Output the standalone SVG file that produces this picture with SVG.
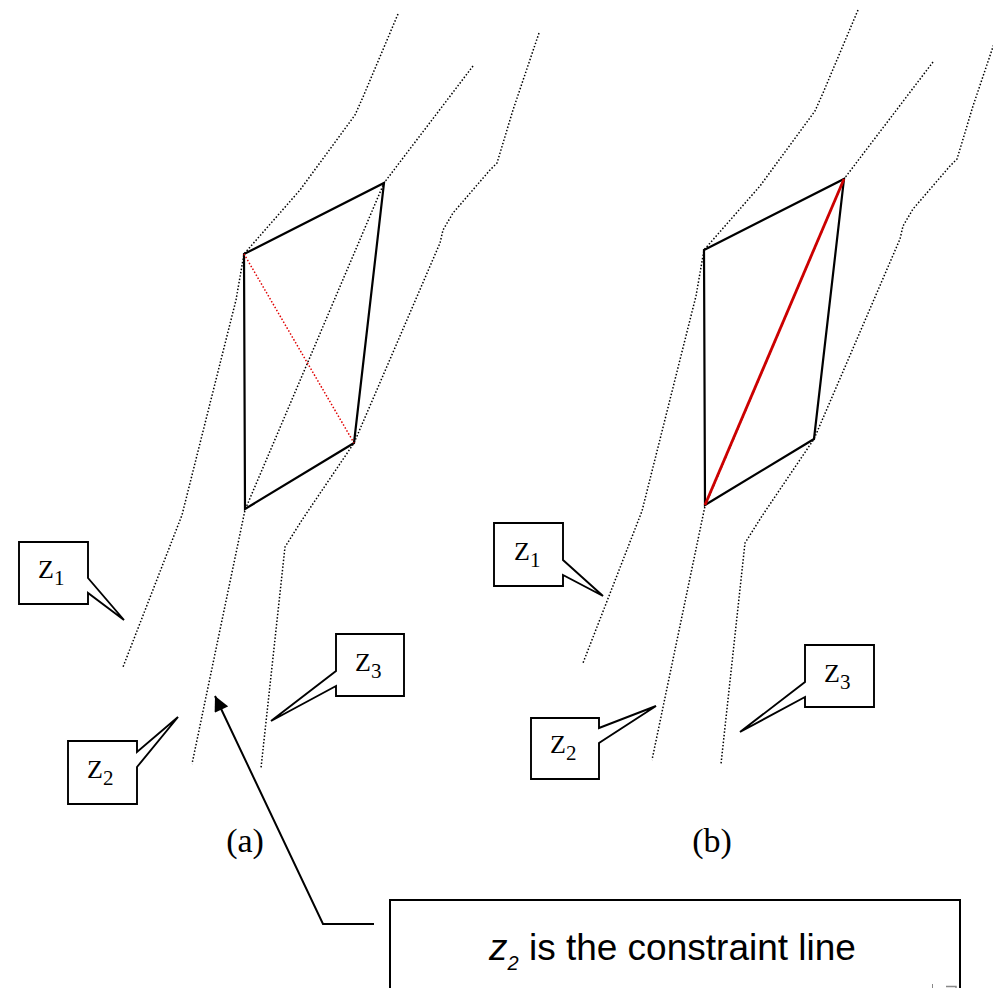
<svg xmlns="http://www.w3.org/2000/svg" width="993" height="988" viewBox="0 0 993 988">
<defs>
<style>
.dot{fill:none;stroke:#000;stroke-width:1.5;stroke-dasharray:1.5 1.9;stroke-linejoin:round}
.quad{fill:none;stroke:#000;stroke-width:2.2;stroke-linejoin:miter}
.call{fill:#fff;stroke:#000;stroke-width:1.9;stroke-linejoin:miter}
.zt{font-family:"Liberation Serif","Times New Roman",serif;font-size:26px;fill:#000}
.zs{font-size:21px}
.cap{font-family:"Liberation Serif","Times New Roman",serif;font-size:34px;fill:#000;text-anchor:middle}
.note{font-family:"Liberation Sans",Arial,sans-serif;font-size:37px;fill:#000}
.conn{fill:none;stroke:#000;stroke-width:2}
</style>
<marker id="arr" viewBox="0 0 10 10" refX="10" refY="5" markerWidth="17" markerHeight="15" markerUnits="userSpaceOnUse" orient="auto">
<path d="M0,0 L10,5 L0,10 Z" fill="#000"/>
</marker>
</defs>
<rect width="993" height="988" fill="#fff"/>

<g id="panel-a">
<polyline class="dot" points="398,14 363,97 355,115 300,190 244,254 236,300 182,515 123,667"/>
<polyline class="dot" points="473,66 384,183 245,510 192,764"/>
<polyline class="dot" points="539,33 513,110 497,163 490,170 453,213 443,230 440,243 354,443 302,520 285,547 261,768"/>
<polygon class="quad" points="244,254 384,183 354,443 245,509"/>
<line x1="244" y1="254" x2="354" y2="443" stroke="#e00000" stroke-width="1.5" stroke-dasharray="1.5 1.9"/>
</g>

<g id="panel-b" transform="translate(460,-4)">
<polyline class="dot" points="398,14 363,97 355,115 300,190 244,254 236,300 182,515 123,667"/>
<polyline class="dot" points="473,66 384,183 245,510 192,764"/>
<polyline class="dot" points="539,33 513,110 497,163 490,170 453,213 443,230 440,243 354,443 302,520 285,547 261,768"/>
<polygon class="quad" points="244,254 384,183 354,443 245,509"/>
<line x1="245" y1="509" x2="384" y2="183" stroke="#cc0000" stroke-width="2.8"/>
</g>

<g id="callout-a-z1">
<path class="call" d="M19,542 H88 V578 L124,620 L88,593 V604 H19 Z"/>
<text class="zt" x="38" y="578">Z<tspan class="zs" dy="7">1</tspan></text>
</g>
<g id="callout-a-z2">
<path class="call" d="M68,741 H137 V752 L178,717 L137,767 V804 H68 Z"/>
<text class="zt" x="87" y="778">Z<tspan class="zs" dy="7">2</tspan></text>
</g>
<g id="callout-a-z3">
<path class="call" d="M336,634 H404 V696 H336 V686 L271,721 L336,671 Z"/>
<text class="zt" x="355" y="671">Z<tspan class="zs" dy="7">3</tspan></text>
</g>

<g id="callout-b-z1">
<path class="call" d="M494,523 H563 V560 L603,596 L563,575 V586 H494 Z"/>
<text class="zt" x="514" y="560">Z<tspan class="zs" dy="7">1</tspan></text>
</g>
<g id="callout-b-z2">
<path class="call" d="M531,718 H599 V728 L656,706 L599,743 V779 H531 Z"/>
<text class="zt" x="550" y="753">Z<tspan class="zs" dy="7">2</tspan></text>
</g>
<g id="callout-b-z3">
<path class="call" d="M805,645 H874 V707 H805 V697 L740,732 L805,682 Z"/>
<text class="zt" x="824" y="682">Z<tspan class="zs" dy="7">3</tspan></text>
</g>

<g id="label-a"><text class="cap" x="245" y="852">(a)</text></g>
<g id="label-b"><text class="cap" x="712" y="852">(b)</text></g>

<g id="constraint-note">
<rect x="390" y="900" width="570" height="110" fill="#fff" stroke="#000" stroke-width="2"/>
<text class="note" x="489" y="960"><tspan font-style="italic">z</tspan><tspan font-style="italic" font-size="20px" dy="10">2</tspan><tspan dy="-10"> is the constraint line</tspan></text>
<line x1="932.5" y1="984" x2="932.5" y2="988" stroke="#888" stroke-width="1"/>
<path d="M946,986.5 H956 V988" fill="none" stroke="#888" stroke-width="1.5"/>
</g>

<g id="connectors">
<polyline class="conn" points="374,924 323,924 215,696" marker-end="url(#arr)"/>
</g>
</svg>
